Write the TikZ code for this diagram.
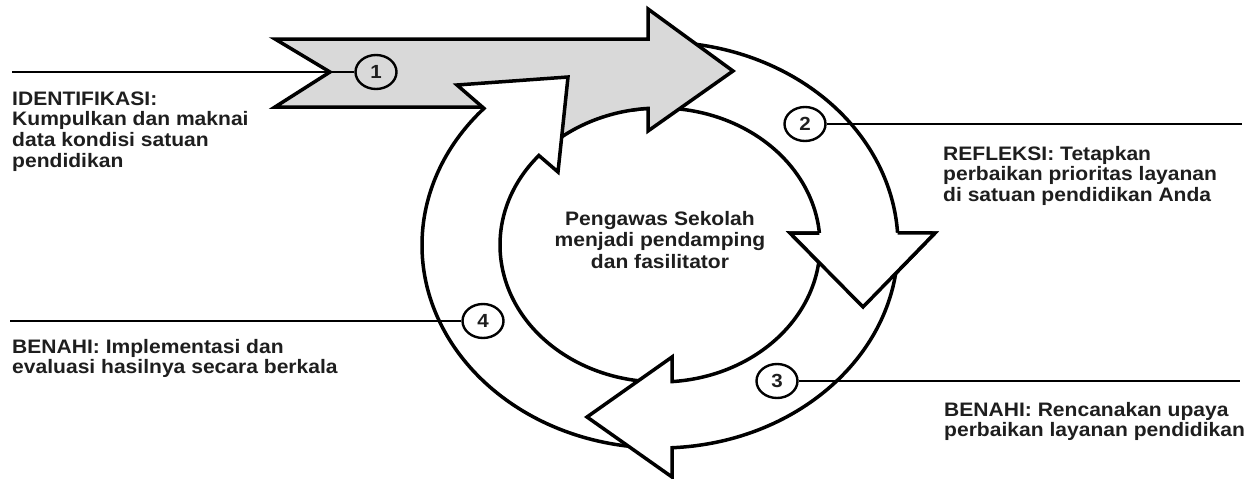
\documentclass[tikz,border=0pt]{standalone}
\usepackage{fontspec}
\newfontfamily\lblfont{Liberation Sans}[FakeStretch=1.08]
\usetikzlibrary{calc,shapes.geometric}
\definecolor{arrowgray}{HTML}{D9D9D9}
\definecolor{txtcol}{HTML}{1E1E1E}
\begin{document}
\begin{tikzpicture}[x=1pt,y=1pt,
  outl/.style={draw=black,line width=3.5pt,line join=miter,miter limit=10},
  whitearrow/.style={outl,fill=white},
  grayarrow/.style={outl,fill=arrowgray},
  numc/.style={ellipse,draw=black,line width=2.4pt,minimum width=41pt,minimum height=34pt,inner sep=0pt,
    font=\lblfont\bfseries\fontsize{19}{20}\selectfont,text=txtcol},
  lblline/.style={draw=black,line width=2.1pt},
  txt/.style={align=left,inner sep=0pt,text=txtcol,font=\lblfont\bfseries\fontsize{19.5}{20.8}\selectfont},
  ctxt/.style={align=center,inner sep=0pt,text=txtcol,font=\lblfont\bfseries\fontsize{19.5}{21.5}\selectfont}]
\useasboundingbox (0,0) rectangle (1253,-479);
\coordinate (C) at (660,-245);

% arrow 2 (right side, going down)
\filldraw[whitearrow] ($(C)+(100:238 and 203)$) arc[start angle=100,end angle=3.4,x radius=238,y radius=203]
  -- (935,-233) -- (863,-307) -- (790,-233)
  -- ($(C)+(5:160 and 137)$) arc[start angle=5,end angle=100,x radius=160,y radius=137];

% arrow 1 (gray, top)
\filldraw[grayarrow] (648,-39) -- (275,-39) -- (330,-72) -- (275,-107) -- (500,-107)
  -- ($(C)+(132:160 and 137)$) arc[start angle=132,end angle=94.3,x radius=160,y radius=137]
  -- (648,-131) -- (733,-71) -- (648,-9) -- cycle;

% arrow 4 (left side, going up)
\filldraw[whitearrow] ($(C)+(-95:238 and 203)$) arc[start angle=-95,end angle=-222.3,x radius=238,y radius=203]
  -- (457,-85) -- (568,-77) -- (558,-172)
  -- ($(C)+(139.2:160 and 137)$) arc[start angle=139.2,end angle=265,x radius=160,y radius=137];

% arrow 3 (bottom, going left)
\filldraw[whitearrow] ($(C)+(2:238 and 203)$) arc[start angle=2,end angle=-87.1,x radius=238,y radius=203]
  -- (672,-477) -- (587,-417) -- (672,-357)
  -- ($(C)+(-85.7:160 and 137)$) arc[start angle=-85.7,end angle=2,x radius=160,y radius=137];

% head of arrow 2 again, over the tail of arrow 3
\filldraw[whitearrow] ($(C)+(3.4:238 and 203)$) -- (935,-233) -- (863,-307) -- (790,-233) -- ($(C)+(5:160 and 137)$);

% numbered circles and their lines
\node[numc] (n1) at (376,-72) {1};
\node[numc] (n2) at (805,-124) {2};
\node[numc] (n3) at (777,-381) {3};
\node[numc] (n4) at (483,-321) {4};
\coordinate (e1) at (12,-72);
\coordinate (e2) at (1242,-124);
\coordinate (e3) at (1240,-381);
\coordinate (e4) at (10,-321);
\draw[lblline] (e1) -- (n1);
\draw[lblline] (n2) -- (e2);
\draw[lblline] (n3) -- (e3);
\draw[lblline] (e4) -- (n4);

% texts (base anchor = baseline of last line)
\node[txt,anchor=base west] (t1) at (12,-167.4) {IDENTIFIKASI:\\Kumpulkan dan maknai\\data kondisi satuan\\pendidikan};
\node[txt,anchor=base west] (t2) at (943,-201.6) {REFLEKSI: Tetapkan\\perbaikan prioritas layanan\\di satuan pendidikan Anda};
\node[txt,anchor=base west] (t3) at (944,-436.8) {BENAHI: Rencanakan upaya\\perbaikan layanan pendidikan};
\node[txt,anchor=base west] (t4) at (12,-373.8) {BENAHI: Implementasi dan\\evaluasi hasilnya secara berkala};
\node[ctxt,anchor=base] (tc) at (660,-268) {Pengawas Sekolah\\menjadi pendamping\\dan fasilitator};
\end{tikzpicture}
\end{document}
